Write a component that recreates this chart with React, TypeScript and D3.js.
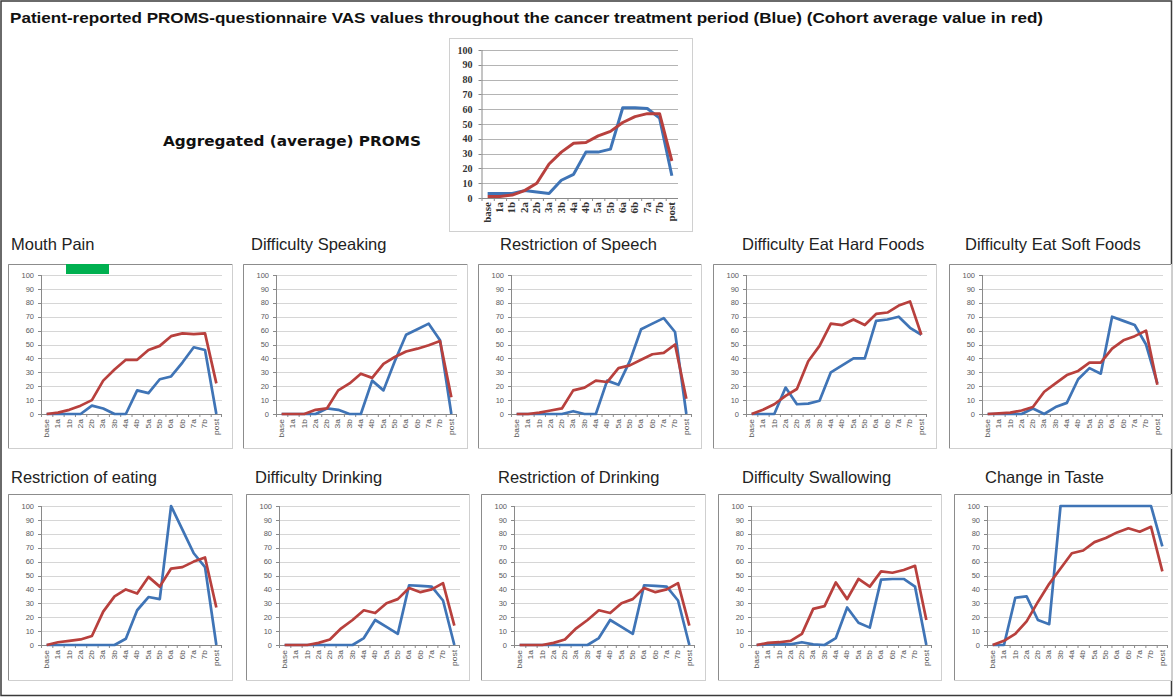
import React from "react";
import * as d3 from "d3";

const categories = ["base","1a","1b","2a","2b","3a","3b","4a","4b","5a","5b","6a","6b","7a","7b","post"];
const yTicks = [0,10,20,30,40,50,60,70,80,90,100];

const aggregatedPatient = [3,3,3,5,4,3,12,16,31,31,33,61,61,60.5,54,15];
const aggregatedCohort = [1,1,2,5,10,23,31,37,37.5,42,45,51,55,57,57,25];

const mouthPainPatient = [0,0,0,0,6,4,0,0,17,15,25,27,37,48,46,0];
const mouthPainCohort = [0,1,3,6,10,24,32,39,39,46,49,56,58,57.5,58,22];

const speakingPatient = [0,0,0,0,4,3,0,0,24,17,38,57,61,65,53,0];
const speakingCohort = [0,0,0,3,4,17,22,29,26,36,41,45,47,49.5,52.5,12];

const speechPatient = [0,0,0,0,0,2,0,0,24,21,38,61,65,69,59,0];
const speechCohort = [0,0,1,2.5,4,17,19,24,23,33,35,39,43,44,50,11];

const hardFoodsPatient = [0,0,0,19,7,7.5,9.5,30,35,40,40,67,68,70,62,57];
const hardFoodsCohort = [0,3,7,13,18,38,49,65,64,68,64,72,73,78,81,57];

const softFoodsPatient = [0,0,0,0,4,0,5,8,25,33,29,70,67,64,50,22];
const softFoodsCohort = [0,0.5,1,2.5,5,16,22,28,31,37,37,47,53,56,60,21];

const eatingPatient = [0,0,0,0,0,0,0,4.5,25,34.5,33,100,83,66,56,0];
const eatingCohort = [0,2,3,4,6.5,24,35,40,37,49,42,55,56,60,63,27];

const drinkingPatient = [0,0,0,0,0,0,0,5,18,13,8,43,42.5,42,32,0];
const drinkingCohort = [0,0,0,1.5,4,12,18,25,23,30,33,41,38,40,44.5,14];

const restrDrinkingPatient = [0,0,0,0,0,0,0,5,18,13,8,43,42.5,42,32,0];
const restrDrinkingCohort = [0,0,0,1.5,4,12,18,25,23,30,33,41,38,40,44.5,14];

const swallowingPatient = [0,0.5,0.5,0.5,2,0.5,0,5,27,16,12.5,47,47.5,47.5,42,0];
const swallowingCohort = [0,1.5,2,3,8,26,28,45,33,47.5,42,53,52,54,57,18];

const tastePatient = [0,0,34,35,18,15,100,100,100,100,100,100,100,100,100,71];
const tasteCohort = [0,3,8,17,31,44,55,66,68,74,77,81,84,81.5,85,53];

const panelTitles = [
  "Mouth Pain","Difficulty Speaking","Restriction of Speech","Difficulty Eat Hard Foods","Difficulty Eat Soft Foods",
  "Restriction of eating","Difficulty Drinking","Restriction of Drinking","Difficulty Swallowing","Change in Taste",
];
const panelSeries = [
  [mouthPainPatient, mouthPainCohort],
  [speakingPatient, speakingCohort],
  [speechPatient, speechCohort],
  [hardFoodsPatient, hardFoodsCohort],
  [softFoodsPatient, softFoodsCohort],
  [eatingPatient, eatingCohort],
  [drinkingPatient, drinkingCohort],
  [restrDrinkingPatient, restrDrinkingCohort],
  [swallowingPatient, swallowingCohort],
  [tastePatient, tasteCohort],
];

// layout (positions only)
const layout = [
  { fx: 8, fy: 264, fw: 224, fh: 184, tx: 11, ty: 250 },
  { fx: 243, fy: 264, fw: 224, fh: 184, tx: 251, ty: 250 },
  { fx: 478, fy: 264, fw: 223, fh: 184, tx: 500, ty: 250 },
  { fx: 713, fy: 264, fw: 223, fh: 184, tx: 742, ty: 250 },
  { fx: 949, fy: 264, fw: 222, fh: 184, tx: 965, ty: 250 },
  { fx: 8, fy: 494, fw: 224, fh: 186, tx: 11, ty: 483 },
  { fx: 246, fy: 494, fw: 223, fh: 186, tx: 255, ty: 483 },
  { fx: 481, fy: 494, fw: 224, fh: 186, tx: 498, ty: 483 },
  { fx: 718, fy: 494, fw: 223, fh: 186, tx: 742, ty: 483 },
  { fx: 954, fy: 494, fw: 217, fh: 186, tx: 985, ty: 483 },
];

const BLUE = "#3f74b6";
const RED = "#b8403d";

function SmallPanel({ idx }: { idx: number }) {
  const L = layout[idx];
  const [patient, cohort] = panelSeries[idx];
  const row2 = idx >= 5;
  const top = L.fy + (row2 ? 12 : 11);
  const bottom = L.fy + (row2 ? 151 : 150);
  const left = L.fx + 33;
  const right = left + 181;
  const x = d3.scaleBand<string>().domain(categories).range([left, right]);
  const y = d3.scaleLinear().domain([0, 100]).range([bottom, top]);
  const cx = (i: number) => (x(categories[i]) as number) + x.bandwidth() / 2;
  const line = d3.line<number>().x((_, i) => cx(i)).y((d) => y(d));
  return (
    <g>
      <rect x={L.fx + 0.5} y={L.fy + 0.5} width={L.fw} height={L.fh} fill="#fff" stroke="#cfcfcf" strokeWidth={1} />
      <line x1={L.fx + 0.5} x2={L.fx + L.fw} y1={L.fy + 0.5} y2={L.fy + 0.5} stroke="#8c8c8c" />
      <line x1={L.fx + 0.5} x2={L.fx + 0.5} y1={L.fy + 0.5} y2={L.fy + L.fh} stroke="#8c8c8c" />
      <text x={L.tx} y={L.ty} fontFamily="'Liberation Sans', Arial, sans-serif" fontSize={16.5} fill="#222">
        {panelTitles[idx]}
      </text>
      {yTicks.filter((t) => t > 0).map((t) => (
        <line key={"g" + t} x1={left} x2={right} y1={Math.round(y(t)) + 0.5} y2={Math.round(y(t)) + 0.5} stroke="#d6d6d6" strokeWidth={1} />
      ))}
      <line x1={left + 0.5} x2={left + 0.5} y1={top} y2={bottom} stroke="#8a8a8a" />
      <line x1={left} x2={right} y1={Math.round(bottom) + 0.5} y2={Math.round(bottom) + 0.5} stroke="#8a8a8a" />
      {yTicks.map((t) => (
        <g key={"y" + t}>
          <line x1={left - 3} x2={left} y1={Math.round(y(t)) + 0.5} y2={Math.round(y(t)) + 0.5} stroke="#8a8a8a" />
          <text x={left - 7} y={y(t)} dy="0.35em" textAnchor="end" fontFamily="'Liberation Sans', Arial, sans-serif" fontSize={7.5} fill="#5a5a5a">
            {t}
          </text>
        </g>
      ))}
      {categories.map((c, i) => (
        <g key={"x" + c}>
          <line x1={(x(c) as number) + 0.5} x2={(x(c) as number) + 0.5} y1={bottom} y2={bottom + 3} stroke="#8a8a8a" />
          <text
            transform={`translate(${cx(i)},${bottom + 5}) rotate(-90) scale(1,0.75)`}
            dy="0.35em"
            textAnchor="end"
            fontFamily="'Liberation Sans', Arial, sans-serif"
            fontSize={8.5}
            fill="#5a5a5a"
          >
            {c}
          </text>
        </g>
      ))}
      <line x1={right - 0.5} x2={right - 0.5} y1={bottom} y2={bottom + 3} stroke="#8a8a8a" />
      <path d={line(patient) as string} fill="none" stroke={BLUE} strokeWidth={2.7} strokeLinejoin="round" />
      <path d={line(cohort) as string} fill="none" stroke={RED} strokeWidth={2.7} strokeLinejoin="round" />
      {idx === 0 && <rect x={66} y={264} width={43} height={10} fill="#00b050" />}
    </g>
  );
}

function AggregatedPanel() {
  const fx = 449, fy = 38, fw = 243, fh = 193;
  const top = 50, bottom = 198, left = 481.5, right = 678;
  const x = d3.scaleBand<string>().domain(categories).range([left, right]);
  const y = d3.scaleLinear().domain([0, 100]).range([bottom, top]);
  const cx = (i: number) => (x(categories[i]) as number) + x.bandwidth() / 2;
  const line = d3.line<number>().x((_, i) => cx(i)).y((d) => y(d));
  const serif = "'Liberation Serif', 'Times New Roman', serif";
  return (
    <g>
      <rect x={fx + 0.5} y={fy + 0.5} width={fw} height={fh} fill="#fff" stroke="#d0d0d0" />
      {yTicks.filter((t) => t > 0).map((t) => (
        <line key={"g" + t} x1={left} x2={right} y1={Math.round(y(t)) + 0.5} y2={Math.round(y(t)) + 0.5} stroke="#b4b4b4" />
      ))}
      <line x1={left + 0.5} x2={left + 0.5} y1={top} y2={bottom} stroke="#8a8a8a" />
      <line x1={left} x2={right} y1={bottom + 0.5} y2={bottom + 0.5} stroke="#8a8a8a" />
      {yTicks.map((t) => (
        <g key={"y" + t}>
          <line x1={left - 3} x2={left} y1={Math.round(y(t)) + 0.5} y2={Math.round(y(t)) + 0.5} stroke="#8a8a8a" />
          <text x={left - 9} y={y(t)} dy="0.35em" textAnchor="end" fontFamily={serif} fontWeight="bold" fontSize={10} fill="#333">
            {t}
          </text>
        </g>
      ))}
      {categories.map((c, i) => (
        <g key={"x" + c}>
          <line x1={(x(c) as number) + 0.5} x2={(x(c) as number) + 0.5} y1={bottom} y2={bottom + 3} stroke="#8a8a8a" />
          <text
            transform={`translate(${cx(i)},${bottom + 4}) rotate(-90) scale(1,0.85)`}
            dy="0.35em"
            textAnchor="end"
            fontFamily={serif}
            fontWeight="bold"
            fontSize={11}
            fill="#333"
          >
            {c}
          </text>
        </g>
      ))}
      <path d={line(aggregatedPatient) as string} fill="none" stroke={BLUE} strokeWidth={3} strokeLinejoin="round" />
      <path d={line(aggregatedCohort) as string} fill="none" stroke={RED} strokeWidth={3} strokeLinejoin="round" />
    </g>
  );
}

export default function App() {
  return (
    <svg
      width={1173}
      height={697}
      viewBox="0 0 1173 697"
      style={{ position: "absolute", left: 0, top: 0, background: "#fff" }}
    >
      <rect x={0} y={0} width={1173} height={697} fill="#fff" />
      <rect x={1} y={1} width={1170.5} height={694.5} fill="none" stroke="#3a3a3a" strokeWidth={1.5} />
      <text x={10} y={23} fontFamily="'Liberation Sans', Arial, sans-serif" fontWeight="bold" fontSize={14.5} fill="#111" textLength={1033} lengthAdjust="spacingAndGlyphs">
        Patient-reported PROMS-questionnaire VAS values throughout the cancer treatment period (Blue) (Cohort average value in red)
      </text>
      <text x={163} y={146} fontFamily="'DejaVu Sans', Verdana, sans-serif" fontWeight="bold" fontSize={13.5} fill="#111" textLength={258} lengthAdjust="spacingAndGlyphs">
        Aggregated (average) PROMS
      </text>
      <AggregatedPanel />
      {layout.map((_, i) => (
        <SmallPanel key={i} idx={i} />
      ))}
    </svg>
  );
}
